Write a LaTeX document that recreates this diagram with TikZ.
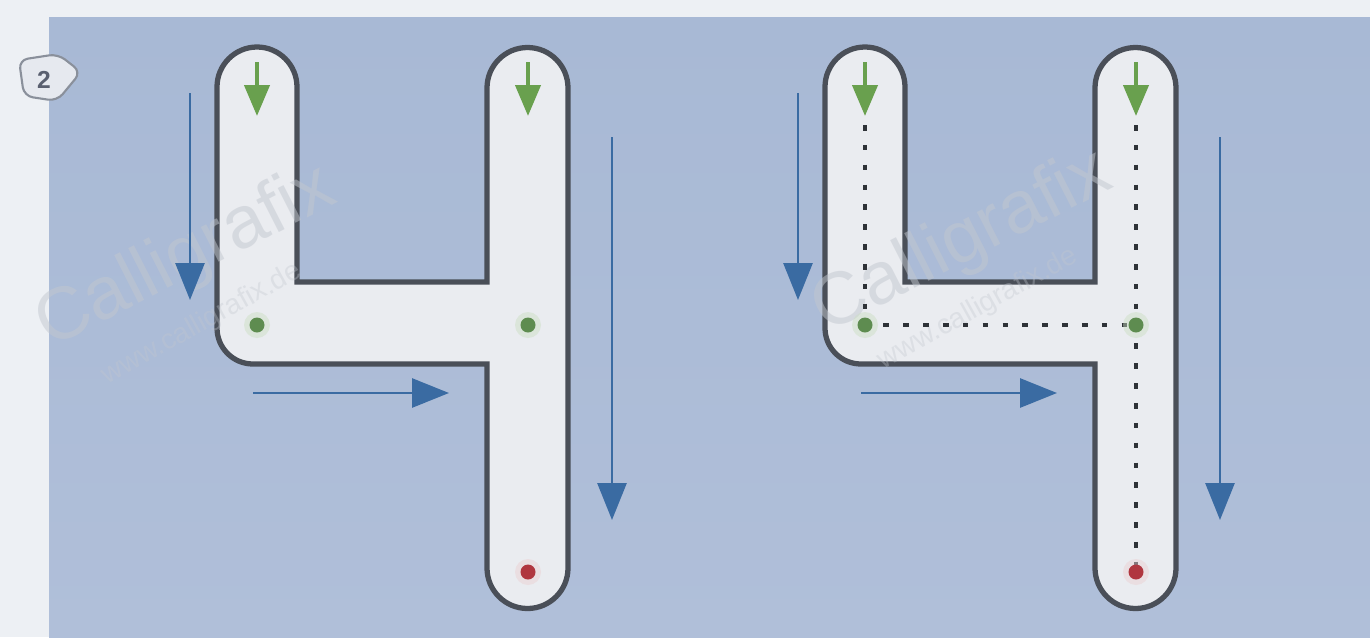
\documentclass[tikz,border=0pt]{standalone}
\usepackage{fontspec}
\setmainfont{Liberation Sans}
\usetikzlibrary{arrows.meta}
\definecolor{bgout}{HTML}{EDF0F4}
\definecolor{panelA}{HTML}{A8B9D5}
\definecolor{panelB}{HTML}{B0BFD9}
\definecolor{glyphfill}{HTML}{EAECF0}
\definecolor{glyphline}{HTML}{4A4F58}
\definecolor{greenarr}{HTML}{69A04E}
\definecolor{greendot}{HTML}{5E8C50}
\definecolor{reddot}{HTML}{B0363F}
\definecolor{bluearr}{HTML}{3A6BA2}
\definecolor{dotcol}{HTML}{2E3237}
\definecolor{wmcol}{HTML}{C2C7CF}
\definecolor{badgeline}{HTML}{8A909B}
\definecolor{badgefill}{HTML}{E6E9EF}
\definecolor{badgetext}{HTML}{5A6070}
\tikzset{
  glyph/.style={draw=glyphline, line width=3pt, fill=glyphfill},
  greenarrow/.style={draw=greenarr, line width=2.4pt, -{Triangle[length=0.62cm,width=0.5cm]}},
  bluearrow/.style={draw=bluearr, line width=1.6pt, -{Triangle[length=0.74cm,width=0.58cm]}},
  guide/.style={draw=dotcol, line width=2.4pt, dash pattern=on 3.2pt off 8.1pt},
  gdot/.style={fill=greendot},
  rdot/.style={fill=reddot},
  gglow/.style={fill=greenarr!35!white, opacity=0.45},
  rglow/.style={fill=reddot!25!white, opacity=0.45},
  watermark/.style={text=wmcol, opacity=0.5, inner sep=0pt},
  watermarksmall/.style={text=wmcol, opacity=0.35, inner sep=0pt},
  badge/.style={draw=badgeline, line width=1.2pt, fill=badgefill, rounded corners=5pt}
}
\begin{document}
\begin{tikzpicture}[x=0.02cm,y=-0.02cm]
\fill[bgout] (0,0) rectangle (1370,637);
\shade[top color=panelA, bottom color=panelB] (49,17) rectangle (1370,637);
\useasboundingbox (0,0) rectangle (1370,637);
% badge
\draw[badge] (19,60) -- (58,54) -- (81,72) -- (57,101) -- (24,96) -- cycle;
\node[font=\bfseries\fontsize{14}{14}\selectfont, text=badgetext] (badgenum) at (44,80) {2};
% glyph outlines
\foreach \o/\n in {0/L,608/R}{
  \begin{scope}[xshift=\o*0.02cm]
    \draw[glyph] (217,87) arc[start angle=180,end angle=360,radius=40]
      -- (297,282) -- (487,282) -- (487,88)
      arc[start angle=180,end angle=360,radius=40.5]
      -- (568,568) arc[start angle=0,end angle=180,radius=40.5]
      -- (487,364) -- (253,364) arc[start angle=90,end angle=180,radius=36] -- cycle;
    \coordinate (\n-ga) at (257,62);
    \coordinate (\n-gb) at (257,116);
    \coordinate (\n-gc) at (528,62);
    \coordinate (\n-gd) at (528,116);
    \coordinate (\n-t1) at (257,125);
    \coordinate (\n-t2) at (528,125);
    \coordinate (\n-d1) at (257,325);
    \coordinate (\n-d2) at (528,325);
    \coordinate (\n-d3) at (528,572);
    \coordinate (\n-a1) at (190,93);
    \coordinate (\n-a2) at (190,300);
    \coordinate (\n-b1) at (253,393);
    \coordinate (\n-b2) at (449,393);
    \coordinate (\n-c1) at (612,137);
    \coordinate (\n-c2) at (612,520);
  \end{scope}
}
% watermarks
\node[watermark, rotate=27, font=\fontsize{42}{42}\selectfont] (wmL) at (186,258) {Calligrafix};
\node[watermarksmall, rotate=29, font=\fontsize{16}{16}\selectfont] (wmLs) at (202,324) {www.calligrafix.de};
\node[watermark, rotate=27, font=\fontsize{42}{42}\selectfont] (wmR) at (962,243) {Calligrafix};
\node[watermarksmall, rotate=29, font=\fontsize{16}{16}\selectfont] (wmRs) at (978,309) {www.calligrafix.de};
% blue direction arrows
\foreach \n in {L,R}{
  \draw[bluearrow] (\n-a1) -- (\n-a2);
  \draw[bluearrow] (\n-b1) -- (\n-b2);
  \draw[bluearrow] (\n-c1) -- (\n-c2);
}
% dotted guide lines (right glyph)
\draw[guide] (R-t1) -- (R-d1) -- (R-d2);
\draw[guide] (R-t2) -- (R-d3);
% dots and green start arrows
\foreach \n in {L,R}{
  \fill[gglow] (\n-d1) circle (13);
  \fill[gglow] (\n-d2) circle (13);
  \fill[rglow] (\n-d3) circle (13);
  \fill[gdot] (\n-d1) circle (7.5);
  \fill[gdot] (\n-d2) circle (7.5);
  \fill[rdot] (\n-d3) circle (7.5);
  \draw[greenarrow] (\n-ga) -- (\n-gb);
  \draw[greenarrow] (\n-gc) -- (\n-gd);
}
\end{tikzpicture}
\end{document}
